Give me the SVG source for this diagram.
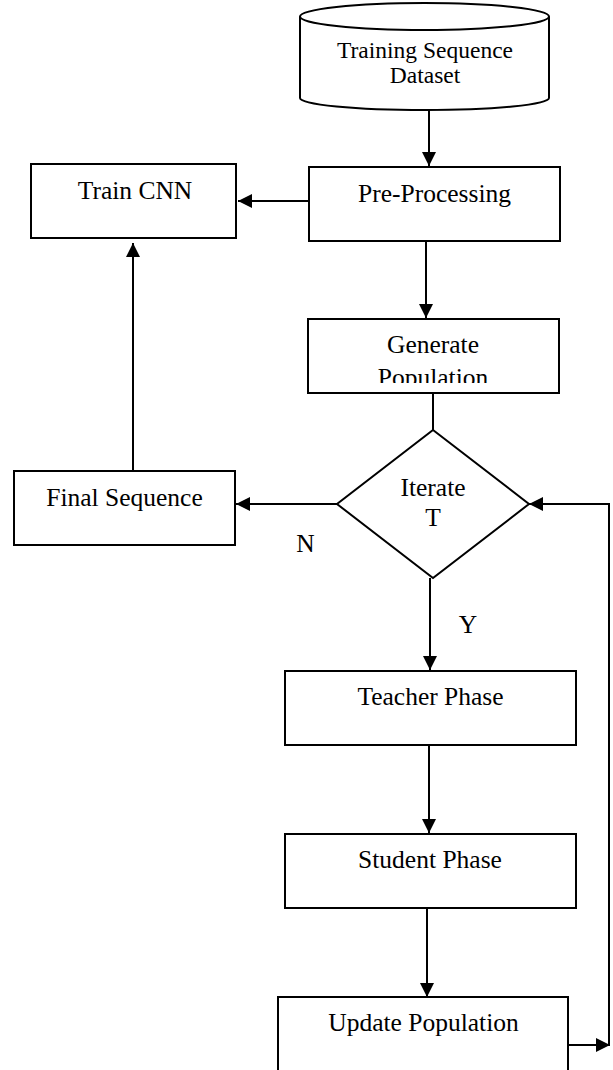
<svg xmlns="http://www.w3.org/2000/svg" width="613" height="1070" viewBox="0 0 613 1070">
<style>
  .box { fill: #ffffff; stroke: #000000; stroke-width: 2; }
  .shape { fill: #ffffff; stroke: #000000; stroke-width: 2; }
  .line { fill: none; stroke: #000000; stroke-width: 2; }
  .arrow { fill: none; stroke: #000000; stroke-width: 2; marker-end: url(#ah); }
  .label { font-family: "Liberation Serif", "Times New Roman", serif; font-size: 25.5px; fill: #000000; text-anchor: middle; }
  .small { font-size: 23.5px; }
</style>
<defs>
  <marker id="ah" markerUnits="userSpaceOnUse" markerWidth="14" markerHeight="14" refX="14" refY="7" orient="auto">
    <path d="M0,0 L14,7 L0,14 z" fill="#000000"/>
  </marker>
  <clipPath id="genclip">
    <rect x="300" y="320" width="270" height="63"/>
  </clipPath>
</defs>
<rect width="613" height="1070" fill="#ffffff"/>

<g id="connectors">
  <line class="arrow" x1="429" y1="110" x2="429" y2="166"/>
  <line class="arrow" x1="312" y1="201" x2="238" y2="201"/>
  <line class="arrow" x1="426" y1="241" x2="426" y2="318"/>
  <line class="line" x1="433" y1="393" x2="433" y2="430"/>
  <line class="arrow" x1="337" y1="504" x2="236" y2="504"/>
  <line class="arrow" x1="133" y1="471" x2="133" y2="243"/>
  <line class="arrow" x1="430" y1="578" x2="430" y2="670"/>
  <line class="arrow" x1="429" y1="745" x2="429" y2="833"/>
  <line class="arrow" x1="427" y1="908" x2="427" y2="997"/>
  <line class="arrow" x1="568" y1="1045" x2="610" y2="1045"/>
  <polyline class="arrow" points="609,1045 609,504 529,504"/>
  <text class="label" x="305.5" y="552">N</text>
  <text class="label" x="468" y="633">Y</text>
</g>

<g id="dataset">
  <path class="shape" d="M300,16.5 L300,98 A124.5,12 0 0 0 549,98 L549,16.5"/>
  <ellipse class="shape" cx="424.5" cy="16.5" rx="124.5" ry="13.5"/>
  <text class="label small" x="425" y="58">Training Sequence</text>
  <text class="label small" x="425" y="83">Dataset</text>
</g>

<g id="train-cnn">
  <rect class="box" x="31" y="164" width="205" height="74"/>
  <text class="label" x="135" y="199">Train CNN</text>
</g>

<g id="pre-processing">
  <rect class="box" x="309" y="167" width="251" height="74"/>
  <text class="label" x="434.5" y="202">Pre-Processing</text>
</g>

<g id="generate-population">
  <rect class="box" x="308" y="319" width="251" height="74"/>
  <text class="label" x="433" y="353">Generate</text>
  <text class="label" x="433" y="386" clip-path="url(#genclip)">Population</text>
</g>

<g id="iterate">
  <polygon class="shape" points="433,430 529,504 433,578 337,504"/>
  <text class="label" x="433" y="496">Iterate</text>
  <text class="label" x="433" y="526">T</text>
</g>

<g id="final-sequence">
  <rect class="box" x="14" y="471" width="221" height="74"/>
  <text class="label" x="124.5" y="506">Final Sequence</text>
</g>

<g id="teacher-phase">
  <rect class="box" x="285" y="671" width="291" height="74"/>
  <text class="label" x="430.5" y="705">Teacher Phase</text>
</g>

<g id="student-phase">
  <rect class="box" x="285" y="834" width="291" height="74"/>
  <text class="label" x="430" y="868">Student Phase</text>
</g>

<g id="update-population">
  <rect class="box" x="278" y="997" width="290" height="90"/>
  <text class="label" x="423.5" y="1031">Update Population</text>
</g>
</svg>
